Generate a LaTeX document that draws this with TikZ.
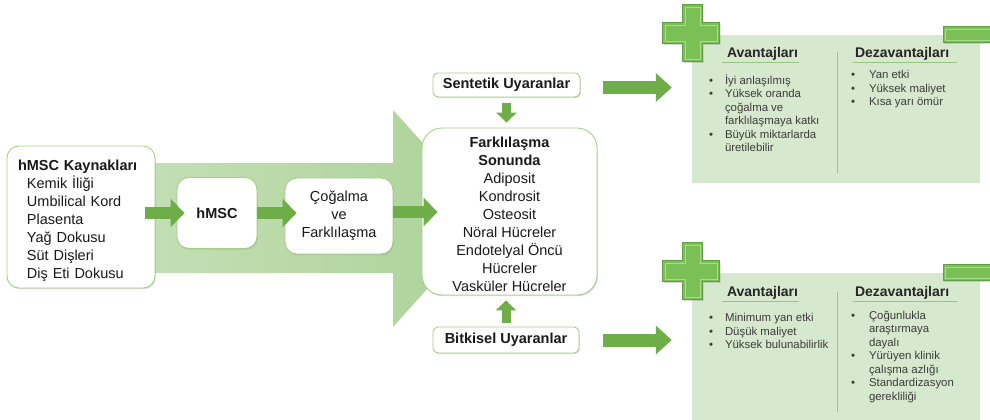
\documentclass[tikz,border=0pt]{standalone}
\usepackage{fontspec}
\setmainfont{Liberation Sans}
\usetikzlibrary{arrows.meta,shadows,calc}
\definecolor{bigarrowL}{RGB}{198,225,184}
\definecolor{bigarrowR}{RGB}{172,210,152}
\definecolor{darrow}{RGB}{110,173,72}
\definecolor{panelcol}{RGB}{214,232,205}
\definecolor{boxline}{RGB}{166,206,140}
\definecolor{pluscol}{RGB}{122,192,86}
\definecolor{plusedge}{RGB}{96,160,66}
\definecolor{pluslight}{RGB}{168,220,138}
\definecolor{txt}{RGB}{25,25,25}
\definecolor{ptxt}{RGB}{60,60,60}
\definecolor{sepline}{RGB}{150,200,120}
\tikzset{
  plussign/.pic={
    \path[plusfill, drop shadow={shadow xshift=0.8pt,shadow yshift=-1pt,opacity=0.3}]
      (-9,-30) -- (11,-30) -- (11,-12) -- (28,-12) -- (28,9) -- (11,9) -- (11,27)
      -- (-9,27) -- (-9,9) -- (-29,9) -- (-29,-12) -- (-9,-12) -- cycle;
    \draw[pluslight, line width=1pt]
      (-6.5,-27.5) -- (8.5,-27.5) -- (8.5,-9.5) -- (25.5,-9.5) -- (25.5,6.5) -- (8.5,6.5) -- (8.5,24.5)
      -- (-6.5,24.5) -- (-6.5,6.5) -- (-26.5,6.5) -- (-26.5,-9.5) -- (-6.5,-9.5) -- cycle;
  },
  minussign/.pic={
    \path[plusfill, drop shadow={shadow xshift=0.8pt,shadow yshift=-1pt,opacity=0.3}]
      (-37,-8) rectangle (14,8);
    \draw[pluslight, line width=1pt] (-34.5,-5.5) rectangle (14,5.5);
  }
}
\begin{document}
\begin{tikzpicture}[x=1pt,y=-1pt,
  box/.style={draw=boxline,line width=0.9pt,fill=white,rounded corners=#1,
    drop shadow={shadow xshift=0.8pt,shadow yshift=-1.2pt,opacity=0.3},
    text=txt,font=\fontsize{14.5}{18}\selectfont,inner sep=0pt},
  box/.default=12pt,
  harr/.style={draw=darrow,line width=12pt,-{Triangle[length=14pt,width=28pt]}},
  rarr/.style={draw=darrow,line width=13pt,-{Triangle[length=16pt,width=28pt]}},
  varr/.style={draw=darrow,line width=9pt,-{Triangle[length=10pt,width=20pt]}},
  panel/.style={fill=panelcol,draw=none,minimum width=288pt,inner sep=0pt},
  head/.style={font=\fontsize{14}{16}\selectfont\bfseries,text=black!85,inner sep=0pt,anchor=base west},
  plist/.style={font=\fontsize{11.4}{13.5}\selectfont,text=ptxt,inner sep=0pt,anchor=north west},
  uline/.style={draw=sepline,line width=1.2pt},
  vsep/.style={draw=sepline,line width=0.8pt},
  plusfill/.style={fill=pluscol,draw=plusedge,line width=0.7pt},
]
\useasboundingbox (0,0) rectangle (990,420);

% big light arrow
\shade[left color=bigarrowL,right color=bigarrowR]
  (100,163) -- (393,163) -- (393,110) -- (491,218) -- (393,327) -- (393,273) -- (100,273) -- cycle;

% boxes
\node[box, minimum width=148pt, minimum height=142pt, text width=126pt, align=left] (src) at (81,217)
  {\rule{0pt}{19pt}\textbf{hMSC Kaynakları}\\
   \hspace*{9pt}Kemik İliği\\
   \hspace*{9pt}Umbilical Kord\\
   \hspace*{9pt}Plasenta\\
   \hspace*{9pt}Yağ Dokusu\\
   \hspace*{9pt}Süt Dişleri\\
   \hspace*{9pt}Diş Eti Dokusu};
\node[box, minimum width=80pt, minimum height=71pt, font=\fontsize{14.5}{18}\selectfont\bfseries] (hmsc) at (217,213) {hMSC};
\node[box, minimum width=108pt, minimum height=76pt, align=center] (cog) at (339,216) {Çoğalma\\ve\\Farklılaşma};
\node[box=20pt, minimum width=175pt, minimum height=167pt, align=center] (res) at (509.5,211.5)
  {\rule{0pt}{17pt}\textbf{Farklılaşma}\\\textbf{Sonunda}\\Adiposit\\Kondrosit\\Osteosit\\Nöral Hücreler\\Endotelyal Öncü\\Hücreler\\Vasküler Hücreler};
\node[box=5pt, minimum width=147pt, minimum height=24pt, font=\fontsize{14.5}{18}\selectfont\bfseries] (sent) at (506.5,85) {Sentetik Uyaranlar};
\node[box=5pt, minimum width=146pt, minimum height=26pt, font=\fontsize{14.5}{18}\selectfont\bfseries] (bitk) at (506,340) {Bitkisel Uyaranlar};

% panels
\node[panel, minimum height=148pt] (p1) at (836,109) {};
\node[panel, minimum height=148pt] (p2) at (836,347) {};
\pic at (p1.north west) {plussign};
\pic at (p1.north east) {minussign};
\pic at (p2.north west) {plussign};
\pic at (p2.north east) {minussign};

% panel 1 content
\node[head] (av1) at ($(p1.north west)+(35,23)$) {Avantajları};
\node[head] (dz1) at ($(p1.north west)+(163,23)$) {Dezavantajları};
\draw[uline] ($(av1.base west)+(-5,5)$) -- ($(av1.base east)+(1,5)$);
\draw[uline] ($(dz1.base west)+(-2,5)$) -- ($(dz1.base east)+(8,5)$);
\draw[vsep] ($(p1.north west)+(146,17)$) -- ($(p1.north west)+(146,138)$);
\node[plist] (l1) at ($(p1.north west)+(17,39.5)$)
  {\begin{tabular}{@{}p{16pt}@{}l@{}}
   •&İyi anlaşılmış\\
   •&Yüksek oranda\\
    &çoğalma ve\\
    &farklılaşmaya katkı\\
   •&Büyük miktarlarda\\
    &üretilebilir
   \end{tabular}};
\node[plist] (r1) at ($(p1.north west)+(159,34.5)$)
  {\begin{tabular}{@{}p{18pt}@{}l@{}}
   •&Yan etki\\
   •&Yüksek maliyet\\
   •&Kısa yarı ömür
   \end{tabular}};

% panel 2 content
\node[head] (av2) at ($(p2.north west)+(35,24)$) {Avantajları};
\node[head] (dz2) at ($(p2.north west)+(163,24)$) {Dezavantajları};
\draw[uline] ($(av2.base west)+(-5,5)$) -- ($(av2.base east)+(1,5)$);
\draw[uline] ($(dz2.base west)+(-2,5)$) -- ($(dz2.base east)+(8,5)$);
\draw[vsep] ($(p2.north west)+(146,19)$) -- ($(p2.north west)+(146,139)$);
\node[plist] (l2) at ($(p2.north west)+(17,39.5)$)
  {\begin{tabular}{@{}p{16pt}@{}l@{}}
   •&Minimum yan etki\\
   •&Düşük maliyet\\
   •&Yüksek bulunabilirlik
   \end{tabular}};
\node[plist] (r2) at ($(p2.north west)+(159,37)$)
  {\begin{tabular}{@{}p{18pt}@{}l@{}}
   •&Çoğunlukla\\
    &araştırmaya\\
    &dayalı\\
   •&Yürüyen klinik\\
    &çalışma azlığı\\
   •&Standardizasyon\\
    &gerekliliği
   \end{tabular}};

% connectors
\coordinate (a1s) at (src.east |- hmsc.west);
\coordinate (a2e) at (hmsc.east -| cog.west);
\coordinate (a3e) at (cog.east -| res.west);
\coordinate (v1e) at (res.north -| sent.south);
\coordinate (v2e) at (res.south -| bitk.north);
\coordinate (r1e) at (p1.west |- sent.east);
\coordinate (r2e) at (p2.west |- bitk.east);
\draw[harr] ($(a1s)+(-10,0)$) -- ($(hmsc.west)+(8,0)$);
\draw[harr] (hmsc.east) -- ($(a2e)+(12,0)$);
\draw[harr] ($(cog.east)+(0,-4)$) -- ($(a3e)+(16,-4)$);
\draw[varr] ($(sent.south)+(0,6)$) -- ($(v1e)+(0,-5)$);
\draw[varr] ($(bitk.north)+(0,-4)$) -- ($(v2e)+(0,5)$);
\draw[rarr] ($(sent.east)+(23,2.5)$) -- ($(r1e)+(-20,2.5)$);
\draw[rarr] ($(bitk.east)+(24,0)$) -- ($(r2e)+(-20,0)$);
\end{tikzpicture}
\end{document}
